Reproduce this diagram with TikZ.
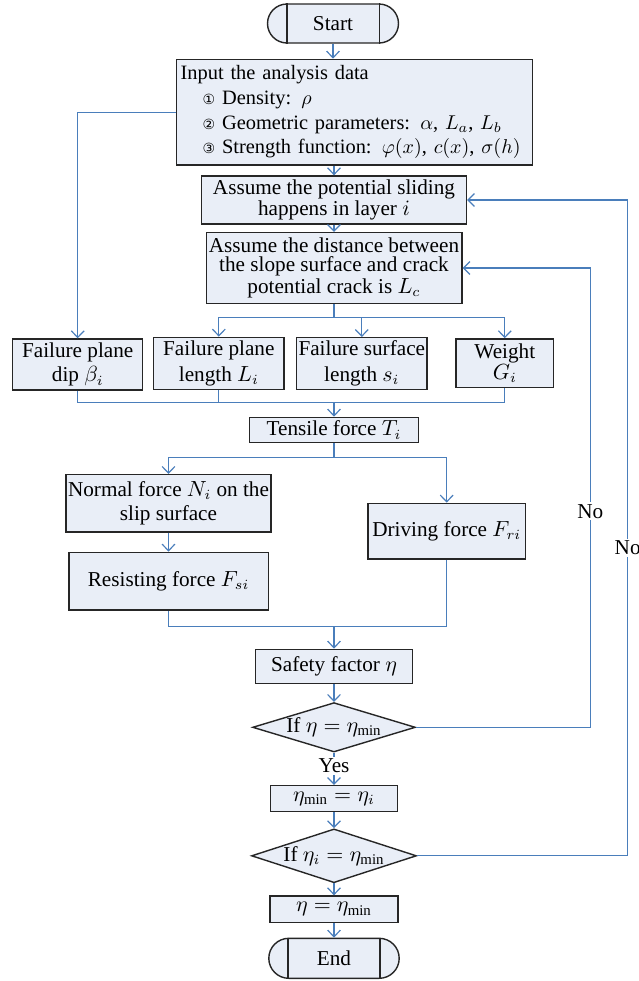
\documentclass[tikz,border=0pt]{standalone}
\usepackage{fontspec}
\setmainfont{Liberation Serif}
\newfontfamily\circfont{DejaVu Sans}
\usetikzlibrary{shapes.geometric,arrows.meta}
\definecolor{boxfill}{RGB}{233,238,247}
\definecolor{linkblue}{RGB}{74,126,187}
\definecolor{boxline}{RGB}{38,38,38}

\begin{document}
\begin{tikzpicture}[x=0.5pt,y=-0.5pt,
  box/.style={draw=boxline,line width=0.7pt,fill=boxfill,inner sep=1pt,align=center,font=\fontsize{10.6}{12.4}\selectfont},
  term/.style={box,rounded corners=9.75pt,minimum width=65.5pt,minimum height=19.5pt},
  decision/.style={box,diamond,aspect=3.3,inner sep=0pt},
  link/.style={draw=linkblue,line width=0.6pt},
  flow/.style={link,-{Straight Barb[length=3.3pt,width=6.4pt]}},
  lbl/.style={fill=white,inner sep=1pt,font=\fontsize{10.6}{12.4}\selectfont}]

\useasboundingbox (0,0) rectangle (638,981);

% fork points of the connectors
\coordinate (fork1) at (334,317.3);
\coordinate (fork2) at (334,402.7);
\coordinate (fork3) at (334,457.7);
\coordinate (fork4) at (334,626.7);
\coordinate (no1) at (590.3,727.3);
\coordinate (no2) at (627.7,855.8);

% start and input
\node[term] (start) at (333,23.5) {Start};
\node[box,text width=174pt,align=left,inner sep=2pt,minimum height=52.9pt,font=\fontsize{10.2}{12.3}\selectfont] (input) at (354.7,112.2)
  {Input the analysis data\\
   \hspace*{11pt}{\circfont\scriptsize ①} Density: $\rho$\\
   \hspace*{11pt}{\circfont\scriptsize ②} Geometric parameters: $\alpha$, $L_a$, $L_b$\\
   \hspace*{11pt}{\circfont\scriptsize ③} Strength function: $\varphi(x)$, $c(x)$, $\sigma(h)$};

% the two assumptions
\node[box,minimum width=132.3pt,minimum height=24pt,font=\fontsize{10.6}{10.7}\selectfont] (layer) at (334,200)
  {Assume the potential sliding\\happens in layer $i$};
\node[box,minimum width=127.8pt,minimum height=35.3pt,font=\fontsize{10.6}{9.6}\selectfont] (crack) at (334,268)
  {Assume the distance between\\the slope surface and crack\\potential crack is $L_c$};

% the four quantities
\node[box,minimum width=65pt,minimum height=25.5pt,font=\fontsize{10.6}{12.2}\selectfont] (dip) at (77.7,364.5)
  {Failure plane\\dip $\beta_i$};
\node[box,minimum width=65.2pt,minimum height=26pt,font=\fontsize{10.6}{12.8}\selectfont] (len) at (218.8,363.3)
  {Failure plane\\length $L_i$};
\node[box,minimum width=65.2pt,minimum height=25.8pt,font=\fontsize{10.6}{12.8}\selectfont] (surf) at (361.8,363.5)
  {Failure surface\\length $s_i$};
\node[box,minimum width=48.9pt,minimum height=24.4pt,font=\fontsize{10.6}{10.3}\selectfont] (weight) at (504.8,363.3)
  {Weight\\$G_i$};

% forces
\node[box,minimum width=84.4pt,minimum height=12.7pt] (tens) at (334,430) {Tensile force $T_i$};
\node[box,minimum width=102.2pt,minimum height=28.7pt] (normal) at (168.5,503.3)
  {Normal force $N_i$ on the\\slip surface};
\node[box,minimum width=99.7pt,minimum height=28.9pt] (resist) at (168.5,581.2) {Resisting force $F_{si}$};
\node[box,minimum width=78.7pt,minimum height=27.9pt] (drive) at (446.7,531.2) {Driving force $F_{ri}$};
\node[box,minimum width=78.5pt,minimum height=17.2pt] (safety) at (334,666.5) {Safety factor $\eta$};

% checks and end
\node[decision,minimum width=81.4pt,minimum height=24.7pt] (check1) at (334,727.3) {If $\eta = \eta_{\min}$};
\node[box,minimum width=63.7pt,minimum height=12.8pt] (etamin) at (334,798.5) {$\eta_{\min} = \eta_i$};
\node[decision,minimum width=82.5pt,minimum height=26.9pt] (check2) at (334,855.8) {If $\eta_i = \eta_{\min}$};
\node[box,minimum width=63.9pt,minimum height=13.2pt] (eta) at (334,909.2) {$\eta = \eta_{\min}$};
\node[term,minimum width=65.2pt,minimum height=20pt,rounded corners=10pt] (end) at (334,958.3) {End};

% inner bars of the terminals
\draw[boxline,line width=0.7pt] ([xshift=10pt]start.north west) -- ([xshift=10pt]start.south west);
\draw[boxline,line width=0.7pt] ([xshift=-10pt]start.north east) -- ([xshift=-10pt]start.south east);
\draw[boxline,line width=0.7pt] ([xshift=10pt]end.north west) -- ([xshift=10pt]end.south west);
\draw[boxline,line width=0.7pt] ([xshift=-10pt]end.north east) -- ([xshift=-10pt]end.south east);

% main connectors
\draw[flow] (start.south) -- (start.south |- input.north);
\draw[flow] (input.south -| layer.north) -- (layer.north);
\draw[flow] (input.west) -| (dip.north);
\draw[flow] (layer.south) -- (crack.north);
\draw[link] (crack.south) -- (fork1);
\draw[flow] (fork1) -| (len.north);
\draw[flow] (fork1) -| (surf.north);
\draw[flow] (fork1) -| (weight.north);
\draw[link] (dip.south) |- (fork2);
\draw[link] (len.south) |- (fork2);
\draw[link] (weight.south) |- (fork2);
\draw[flow] (fork2) -- (tens.north);
\draw[link] (tens.south) -- (fork3);
\draw[flow] (fork3) -| (normal.north);
\draw[flow] (fork3) -| (drive.north);
\draw[flow] (normal.south) -- (resist.north);
\draw[link] (resist.south) |- (fork4);
\draw[link] (drive.south) |- (fork4);
\draw[flow] (fork4) -- (safety.north);
\draw[flow] (safety.south) -- (check1.north);
\draw[flow] (check1.south) -- node[lbl,pos=0.4] {Yes} (etamin.north);
\draw[flow] (etamin.south) -- (check2.north);
\draw[flow] (check2.south) -- (eta.north);
\draw[flow] (eta.south) -- (end.north);

% the loops back
\draw[flow] (check1.east) -- (no1) -- node[lbl,pos=0.47] {No} (no1 |- crack.east) -- (crack.east);
\draw[flow] (check2.east) -- (no2) -- node[lbl,pos=0.47] {No} (no2 |- layer.east) -- (layer.east);

\end{tikzpicture}
\end{document}
